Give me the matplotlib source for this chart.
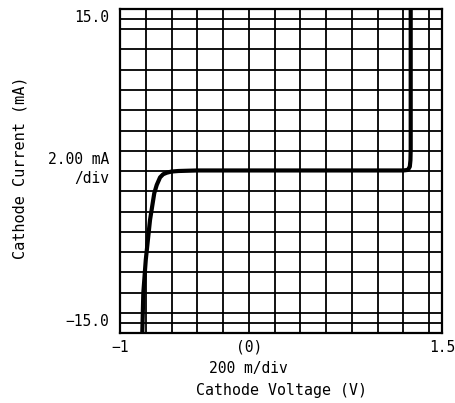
import matplotlib
matplotlib.use("Agg")
import matplotlib.pyplot as plt

# Data
voltage = [-0.827, -0.819, -0.80, -0.767, -0.734, -0.715, -0.689, -0.665, -0.637,
           -0.60, -0.547, -0.40, 0.0, 0.5, 1.0, 1.20, 1.235, 1.25, 1.255, 1.257, 1.257]
current = [-15.0, -11.3, -8.24, -4.54, -2.06, -1.30, -0.59, -0.30, -0.16,
           -0.05, 0.0, 0.05, 0.05, 0.05, 0.05, 0.05, 0.1, 0.4, 1.0, 2.0, 15.0]

x_grid = [-1 + 0.2 * k for k in range(13)]
y_grid = [1.875 * k for k in range(-7, 8)] + [14.0625, -14.0625]
x_ticks = [-1, 0, 1.5]
x_ticklabels = ["\u22121", "(0)", "1.5"]
y_ticks = [15, -15]
y_ticklabels = ["15.0", "\u221215.0"]

FONT = "DejaVu Sans Mono"
FS = 10.5

fig = plt.figure(figsize=(4.56, 4.03), dpi=100)
ax = fig.add_axes([120/456, 1 - 333/403, 322/456, 324/403])

for xv in x_grid:
    ax.axvline(xv, color="black", lw=1.3, zorder=1)
for yv in y_grid:
    ax.axhline(yv, color="black", lw=1.3, zorder=1)

ax.plot(voltage, current, color="black", lw=3.0, solid_joinstyle="round",
        solid_capstyle="butt", zorder=3)

ax.set_xlim(-1, 1.5)
ax.set_ylim(-15, 15)
for s in ax.spines.values():
    s.set_linewidth(1.6)
ax.set_xticks([])
ax.set_yticks([])

# y tick labels
y_offsets = [-9, 11]
for v, lab, off in zip(y_ticks, y_ticklabels, y_offsets):
    ax.annotate(lab, xy=(0, v), xycoords=("axes fraction", "data"),
                xytext=(-11, off), textcoords="offset pixels",
                ha="right", va="center", family=FONT, fontsize=FS)
ax.annotate("2.00 mA", xy=(0, 0), xycoords=("axes fraction", "data"),
            xytext=(-11, 11), textcoords="offset pixels",
            ha="right", va="center", family=FONT, fontsize=FS)
ax.annotate("/div", xy=(0, 0), xycoords=("axes fraction", "data"),
            xytext=(-11, -8), textcoords="offset pixels",
            ha="right", va="center", family=FONT, fontsize=FS)

# x tick labels
for v, lab in zip(x_ticks, x_ticklabels):
    ax.annotate(lab, xy=(v, 0), xycoords=("data", "axes fraction"),
                xytext=(0, -14), textcoords="offset pixels",
                ha="center", va="center", family=FONT, fontsize=FS)
ax.annotate("200 m/div", xy=(0, 0), xycoords=("data", "axes fraction"),
            xytext=(0, -35), textcoords="offset pixels",
            ha="center", va="center", family=FONT, fontsize=FS)

fig.text(282/456, 1 - 391/403, "Cathode Voltage (V)", ha="center", va="center",
         family=FONT, fontsize=10.75)
fig.text(20/456, 1 - 168/403, "Cathode Current (mA)", ha="center", va="center",
         rotation=90, family=FONT, fontsize=11)

fig.savefig("out.png", dpi=100)
